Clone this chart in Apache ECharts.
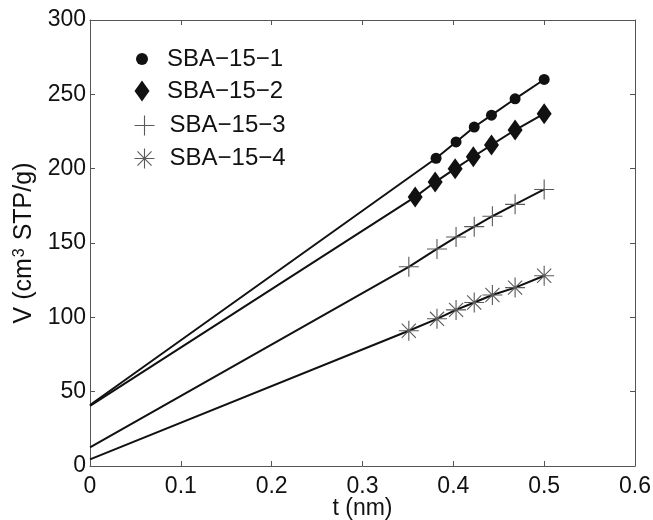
<!DOCTYPE html>
<html>
<head>
<meta charset="utf-8">
<script src="https://cdn.jsdelivr.net/npm/echarts@6/dist/echarts.min.js"></script>
<style>
  html, body { margin: 0; padding: 0; background: #fff; }
  #chart { width: 653px; height: 520px; }
</style>
</head>
<body>
<div id="chart"></div>
<script>
// t-plot data: adsorbed volume vs. statistical film thickness
const names = ['SBA\u221215\u22121', 'SBA\u221215\u22122', 'SBA\u221215\u22123', 'SBA\u221215\u22124'];

const t1 = [0.381, 0.403, 0.423, 0.442, 0.468, 0.500];
const v1 = [207, 218, 228, 236, 247, 260];

const t2 = [0.358, 0.380, 0.402, 0.422, 0.442, 0.468, 0.500];
const v2 = [181, 191, 200, 208, 216, 226, 237];

const t3 = [0.351, 0.382, 0.403, 0.423, 0.443, 0.468, 0.500];
const v3 = [134, 146, 154, 161, 168, 176, 186];

const t4 = [0.351, 0.382, 0.403, 0.423, 0.443, 0.468, 0.500];
const v4 = [91, 99, 105, 110, 115, 120, 128];

// fitted-line intercepts at t = 0
const intercepts = [41, 40.5, 12.5, 4.5];

const xTicks = [0, 0.1, 0.2, 0.3, 0.4, 0.5, 0.6];
const yTicks = [0, 50, 100, 150, 200, 250, 300];

const FONT = '"Liberation Sans", Arial, Helvetica, sans-serif';
const INK = '#111';
const AXIS = '#555';
const MARK_GREY = '#5a5a5a';

const plusPath = 'path://M0,-10L0,10M-10,0L10,0';
const starPath = 'path://M0,-10L0,10M-10,0L10,0M-7.07,-7.07L7.07,7.07M-7.07,7.07L7.07,-7.07';
const diamondPath = 'path://M0,-14L10,0L0,14L-10,0Z';

function buildData(ts, vs, b) {
  const out = [{ value: [0, b], symbol: 'none' }];
  ts.forEach((t, i) => out.push([t, vs[i]]));
  return out;
}

const filled = { color: INK, borderWidth: 0 };
const stroked = { color: 'none', borderColor: MARK_GREY, borderWidth: 1.1 };

const seriesDefs = [
  { ts: t1, vs: v1, symbol: 'circle', size: 11, style: filled },
  { ts: t2, vs: v2, symbol: diamondPath, size: 21, style: filled },
  { ts: t3, vs: v3, symbol: plusPath, size: 20, style: stroked },
  { ts: t4, vs: v4, symbol: starPath, size: 20, style: stroked }
];

const series = seriesDefs.map((d, i) => ({
  name: names[i],
  type: 'line',
  xAxisIndex: 0,
  yAxisIndex: 0,
  data: buildData(d.ts, d.vs, intercepts[i]),
  symbol: d.symbol,
  symbolSize: d.size,
  symbolKeepAspect: true,
  showAllSymbol: true,
  lineStyle: { color: INK, width: 2 },
  itemStyle: d.style,
  emphasis: { disabled: true },
  silent: true,
  z: 3
}));

// one legend block per entry so each marker keeps its own size;
// iconW is the drawn marker width, used to keep the marker column centred
const ICON_CENTER = 142;
const legendRows = [
  { icon: 'circle', h: 12, iconW: 12, top: 47, style: { color: INK, borderWidth: 0 } },
  { icon: diamondPath, h: 21, iconW: 15, top: 79, style: { color: INK, borderWidth: 0 } },
  { icon: plusPath, h: 20, iconW: 20, top: 113, style: { color: 'none', borderColor: MARK_GREY, borderWidth: 1.1 } },
  { icon: starPath, h: 20, iconW: 20, top: 146, style: { color: 'none', borderColor: MARK_GREY, borderWidth: 1.1 } }
];

const legend = legendRows.map((r, i) => ({
  data: [{ name: names[i], icon: r.icon, itemStyle: r.style }],
  left: ICON_CENTER - r.iconW / 2,
  top: r.top,
  itemWidth: 22,
  itemHeight: r.h,
  symbolKeepAspect: true,
  selectedMode: false,
  padding: 0,
  textStyle: { fontFamily: FONT, fontSize: 24, color: INK, lineHeight: 24, padding: [0, 0, 0, 9] }
}));

const tickLabel = { fontFamily: FONT, fontSize: 23, color: INK };

function frameAxis(extra) {
  return Object.assign({
    axisLine: { show: true, onZero: false, lineStyle: { color: AXIS, width: 1 } },
    axisTick: { show: true, inside: true, length: 5, lineStyle: { color: AXIS } },
    splitLine: { show: false }
  }, extra);
}

const option = {
  animation: false,
  backgroundColor: '#fff',
  grid: { left: 90, right: 18, top: 20, bottom: 54, containLabel: false, outerBoundsMode: 'none' },
  legend: legend,
  xAxis: [
    frameAxis({
      type: 'value', min: 0, max: 0.6, interval: 0.1, position: 'bottom',
      name: 't (nm)', nameLocation: 'middle', nameGap: 31, nameMoveOverlap: false,
      nameTextStyle: { fontFamily: FONT, fontSize: 23, color: INK },
      axisLabel: Object.assign({ margin: 9, formatter: v => String(xTicks.find(t => Math.abs(t - v) < 1e-9) ?? v) }, tickLabel)
    }),
    frameAxis({
      type: 'value', min: 0, max: 0.6, interval: 0.1, position: 'top',
      axisLabel: { show: false }
    })
  ],
  yAxis: [
    frameAxis({
      type: 'value', min: 0, max: 300, interval: 50, position: 'left',
      name: 'V (cm{sup|3} STP/g)', nameLocation: 'middle', nameGap: 46, nameRotate: 90,
      nameTextStyle: {
        fontFamily: FONT, fontSize: 25, color: INK,
        rich: { sup: { fontFamily: FONT, fontSize: 16, color: INK, verticalAlign: 'top', padding: [0, 1, 9, 1] } }
      },
      axisLabel: Object.assign({ margin: 4, formatter: v => String(yTicks.find(t => t === v) ?? v) }, tickLabel)
    }),
    frameAxis({
      type: 'value', min: 0, max: 300, interval: 50, position: 'right',
      axisLabel: { show: false }
    })
  ],
  series: series
};

const chart = echarts.init(document.getElementById('chart'), null, { renderer: 'canvas' });
chart.setOption(option);
</script>
</body>
</html>
